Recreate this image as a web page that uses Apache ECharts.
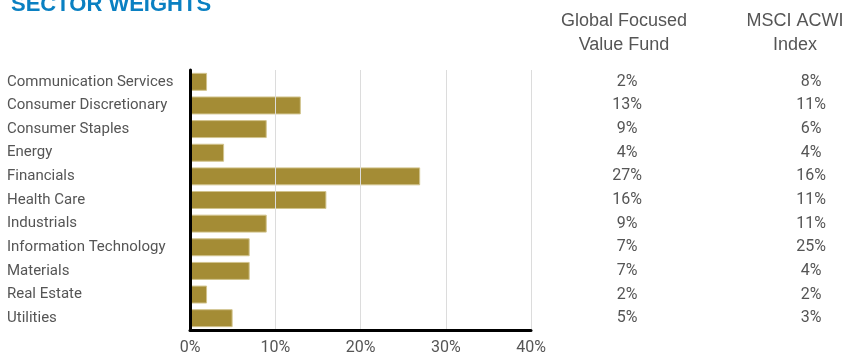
<!DOCTYPE html>
<html><head><meta charset="utf-8">
<script src="https://cdn.jsdelivr.net/npm/echarts@6/dist/echarts.min.js"></script>
<style>html,body{margin:0;padding:0;background:#fff}#c{width:856px;height:352px}</style>
</head><body><div id="c"></div>
<script>
var categories = ["Communication Services","Consumer Discretionary","Consumer Staples","Energy","Financials","Health Care","Industrials","Information Technology","Materials","Real Estate","Utilities"];
var fundValues = [2,13,9,4,27,16,9,7,7,2,5];
var indexValues = [8,11,6,4,16,11,11,25,4,2,3];
var xTicks = [0,10,20,30,40];
var titleText = "SECTOR WEIGHTS";
var fundHeader = "Global Focused\nValue Fund";
var indexHeader = "MSCI ACWI\nIndex";

var condensed = '"Liberation Sans Narrow","Roboto",sans-serif';
var chart = echarts.init(document.getElementById('c'));
chart.setOption({
  animation: false,
  title: {text: titleText, left: 6, top: -11, textStyle: {color: '#0a80c2', fontSize: 22, fontWeight: 'bold', fontFamily: '"Liberation Sans",Arial,sans-serif'}},
  graphic: [
    {type: 'text', x: 624, y: 9, style: {text: fundHeader, fill: '#555', font: '18px "Liberation Sans",Arial,sans-serif', textAlign: 'center', lineHeight: 24}},
    {type: 'text', x: 795, y: 9, style: {text: indexHeader, fill: '#555', font: '18px "Liberation Sans",Arial,sans-serif', textAlign: 'center', lineHeight: 24}}
  ],
  grid: {left: 190, right: 325, top: 70, bottom: 22, containLabel: false, outerBoundsMode: 'none'},
  xAxis: {
    type: 'value', min: xTicks[0], max: xTicks[xTicks.length-1], interval: 10, z: 10,
    axisLine: {show: true, lineStyle: {color: '#000', width: 3}},
    axisTick: {show: false},
    splitLine: {show: true, lineStyle: {color: '#dcdcdc', width: 1}},
    axisLabel: {formatter: '{value}%', color: '#555', fontSize: 16, fontFamily: condensed, margin: 10}
  },
  yAxis: [
    {type: 'category', data: categories, inverse: true, z: 10,
     axisLine: {show: true, onZero: false, lineStyle: {color: '#000', width: 3}},
     axisTick: {show: false},
     axisLabel: {align: 'left', margin: 183, color: '#555', fontSize: 15, fontFamily: condensed}},
    {type: 'category', data: fundValues.map(function(v){return v + '%';}), inverse: true, position: 'right', offset: 96,
     axisLine: {show: false}, axisTick: {show: false},
     axisLabel: {align: 'center', margin: 0, color: '#555', fontSize: 16, fontFamily: condensed}},
    {type: 'category', data: indexValues.map(function(v){return v + '%';}), inverse: true, position: 'right', offset: 280,
     axisLine: {show: false}, axisTick: {show: false},
     axisLabel: {align: 'center', margin: 0, color: '#555', fontSize: 16, fontFamily: condensed}}
  ],
  series: [{
    type: 'bar', data: fundValues, yAxisIndex: 0, barCategoryGap: '24%',
    itemStyle: {color: '#a48c35', borderColor: '#d2c48e', borderWidth: 1}
  }]
});
</script></body></html>
